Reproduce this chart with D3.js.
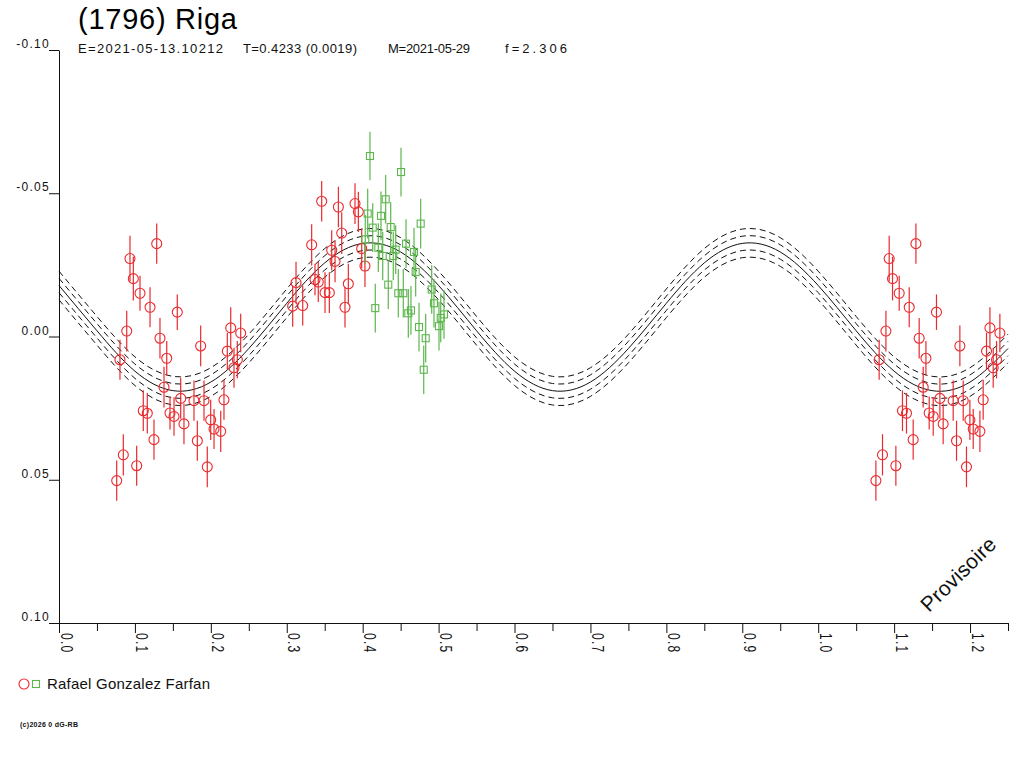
<!DOCTYPE html>
<html>
<head>
<meta charset="utf-8">
<script src="https://cdn.jsdelivr.net/npm/d3@7"></script>
<style>
  body { margin: 0; background: #fff; }
  svg { display: block; font-family: "Liberation Sans", Arial, sans-serif; }
</style>
</head>
<body>
<script>
// header texts
var title = "(1796) Riga";
var infoTexts = ["E=2021-05-13.10212", "T=0.4233 (0.0019)", "M=2021-05-29", "f=2.306"];
var observer = "Rafael Gonzalez Farfan";

// ticks
var xMajorTicks = [0, 0.1, 0.2, 0.3, 0.4, 0.5, 0.6, 0.7, 0.8, 0.9, 1.0, 1.1, 1.2];
var xMinorTicks = [0.05, 0.15, 0.25, 0.35, 0.45, 0.55, 0.65, 0.75, 0.85, 0.95, 1.05, 1.15, 1.25];
var yTicks = [-0.10, -0.05, 0.00, 0.05, 0.10];

// fitted curve, every 0.05 in phase
var fitPhase = [0, 0.05, 0.10, 0.15, 0.20, 0.25, 0.30, 0.35, 0.40, 0.45, 0.50, 0.55, 0.60,
                0.65, 0.70, 0.75, 0.80, 0.85, 0.90, 0.95, 1.00, 1.05, 1.10, 1.15, 1.20, 1.25];
var fitMag = [-0.0178, -0.0020, 0.0121, 0.0189, 0.0159, 0.0042, -0.0116, -0.0257, -0.0325,
              -0.0295, -0.0178, -0.0020, 0.0121, 0.0189, 0.0159, 0.0042, -0.0116, -0.0257,
              -0.0325, -0.0295, -0.0178, -0.0020, 0.0121, 0.0189, 0.0159, 0.0042];
// dashed envelope offsets (mag)
var bandOffsets = [-0.005, -0.0025, 0.0025, 0.005];

// session 1 (red circles): [phase, mag, error]
var redObs = [
  [0.1287, -0.0324, 0.0070], [0.0935, -0.0272, 0.0080], [0.0979, -0.0202, 0.0076],
  [0.1067, -0.0151, 0.0061], [0.1199, -0.0102, 0.0070], [0.1558, -0.0085, 0.0062],
  [0.0892, -0.0019, 0.0071], [0.1330, 0.0006, 0.0071], [0.1866, 0.0033, 0.0071],
  [0.0803, 0.0081, 0.0070], [0.1419, 0.0076, 0.0060], [0.2262, -0.0030, 0.0072],
  [0.2393, -0.0012, 0.0067], [0.2217, 0.0051, 0.0064], [0.2349, 0.0081, 0.0065],
  [0.2305, 0.0109, 0.0070], [0.1383, 0.0177, 0.0071], [0.1603, 0.0216, 0.0071],
  [0.1778, 0.0224, 0.0070], [0.1910, 0.0224, 0.0070], [0.2173, 0.0221, 0.0070],
  [0.1110, 0.0259, 0.0071], [0.1163, 0.0268, 0.0071], [0.1462, 0.0267, 0.0058],
  [0.1515, 0.0279, 0.0067], [0.1646, 0.0305, 0.0071], [0.1998, 0.0291, 0.0070],
  [0.2042, 0.0323, 0.0070], [0.2130, 0.0331, 0.0072], [0.1251, 0.0360, 0.0070],
  [0.1822, 0.0364, 0.0070], [0.0847, 0.0413, 0.0072], [0.1023, 0.0451, 0.0070],
  [0.1953, 0.0455, 0.0071], [0.0760, 0.0503, 0.0070],
  [0.3460, -0.0472, 0.0071], [0.3680, -0.0452, 0.0071], [0.3899, -0.0464, 0.0071],
  [0.3943, -0.0435, 0.0070], [0.3724, -0.0361, 0.0073], [0.3328, -0.0320, 0.0072],
  [0.3592, -0.0301, 0.0070], [0.3636, -0.0262, 0.0073], [0.3987, -0.0307, 0.0070],
  [0.4030, -0.0246, 0.0073], [0.3122, -0.0188, 0.0073], [0.3415, -0.0190, 0.0070],
  [0.3372, -0.0199, 0.0055], [0.3504, -0.0153, 0.0071], [0.3561, -0.0153, 0.0071],
  [0.3811, -0.0184, 0.0070], [0.3078, -0.0106, 0.0072], [0.3210, -0.0108, 0.0070],
  [0.3767, -0.0102, 0.0071]
];

// session 2 (green squares): [phase, mag, error]
var greenObs = [
  [0.4096, -0.0630, 0.0085], [0.4505, -0.0574, 0.0085], [0.4303, -0.0479, 0.0085],
  [0.4066, -0.0429, 0.0087], [0.4241, -0.0421, 0.0085], [0.4132, -0.0380, 0.0085],
  [0.4369, -0.0382, 0.0087], [0.4764, -0.0394, 0.0087], [0.4034, -0.0339, 0.0085],
  [0.4206, -0.0310, 0.0085], [0.4435, -0.0303, 0.0085], [0.4571, -0.0324, 0.0085],
  [0.4676, -0.0295, 0.0085], [0.4264, -0.0281, 0.0085], [0.4403, -0.0281, 0.0085],
  [0.4698, -0.0225, 0.0085], [0.4337, -0.0181, 0.0085], [0.4469, -0.0151, 0.0085],
  [0.4535, -0.0151, 0.0085], [0.4909, -0.0164, 0.0085], [0.4939, -0.0116, 0.0085],
  [0.4166, -0.0099, 0.0085], [0.4636, -0.0091, 0.0085], [0.4601, -0.0081, 0.0085],
  [0.5071, -0.0077, 0.0085], [0.5028, -0.0065, 0.0085], [0.5005, -0.0036, 0.0085],
  [0.4742, -0.0033, 0.0085], [0.4830, 0.0006, 0.0085], [0.4804, 0.0116, 0.0085]
];

var red = "#ea2a2e", green = "#5cb64c";

var svg = d3.select("body").append("svg")
    .attr("width", 1024)
    .attr("height", 768);

var x = d3.scaleLinear().domain([0, 1.25]).range([59, 1008]);
var y = d3.scaleLinear().domain([-0.10, 0.10]).range([50, 623]);

// title + info line
svg.append("text")
    .attr("x", 78).attr("y", 29)
    .attr("font-size", 29)
    .attr("textLength", 159)
    .attr("lengthAdjust", "spacing")
    .attr("fill", "#000")
    .text(title);

var infoX = [78, 243, 388, 505],
    infoW = [145, 114, 82, 62];
svg.selectAll(".info")
  .data(infoTexts)
  .enter().append("text")
    .attr("class", "info")
    .attr("x", function(d, i) { return infoX[i]; })
    .attr("y", 53)
    .attr("font-size", 13)
    .attr("textLength", function(d, i) { return infoW[i]; })
    .attr("lengthAdjust", "spacing")
    .attr("fill", "#111")
    .text(function(d) { return d; });

// y axis
var yAxis = svg.append("g")
    .attr("transform", "translate(59,0)")
    .call(d3.axisLeft(y).tickValues(yTicks).tickSize(10).tickSizeOuter(0)
      .tickFormat(function(d) { return d.toFixed(2); }));
yAxis.selectAll("text")
    .attr("x", -9)
    .attr("dy", "-0.2em")
    .attr("font-size", 12)
    .attr("letter-spacing", 1.3)
    .attr("font-family", "Liberation Sans, Arial, sans-serif")
    .attr("fill", "#111");

// x axis, minor ticks first then majors with labels
svg.append("g")
    .attr("transform", "translate(0,623)")
    .call(d3.axisBottom(x).tickValues(xMinorTicks).tickSize(8).tickSizeOuter(0).tickFormat(""));
var xAxis = svg.append("g")
    .attr("transform", "translate(0,623)")
    .call(d3.axisBottom(x).tickValues(xMajorTicks).tickSize(10).tickSizeOuter(0)
      .tickFormat(function(d) { return d.toFixed(1); }));
xAxis.selectAll("text")
    .attr("y", null).attr("dy", null)
    .attr("text-anchor", "start")
    .attr("font-size", 12)
    .attr("letter-spacing", 1.3)
    .attr("font-family", "Liberation Sans, Arial, sans-serif")
    .attr("fill", "#111")
    .attr("transform", "translate(1,10) rotate(90) scale(1,1.4)");
svg.selectAll(".domain, .tick line").attr("stroke", "#111");

// fitted curve with dashed envelope
var fit = fitPhase.map(function(p, i) { return [p, fitMag[i]]; });
var line = d3.line()
    .x(function(d) { return x(d[0]); })
    .y(function(d) { return y(d[1]); })
    .curve(d3.curveNatural);

svg.selectAll(".band")
  .data(bandOffsets)
  .enter().append("path")
    .attr("class", "band")
    .attr("fill", "none")
    .attr("stroke", "#111")
    .attr("stroke-width", 1)
    .attr("stroke-dasharray", "6,4")
    .attr("d", function(off) {
      return line(fit.map(function(d) { return [d[0], d[1] + off]; }));
    });
svg.append("path")
    .attr("fill", "none")
    .attr("stroke", "#111")
    .attr("stroke-width", 1)
    .attr("d", line(fit));

// red points are shown again one cycle later, as in the original plot
var redAll = redObs.concat(redObs
    .filter(function(d) { return d[0] + 1 <= 1.25; })
    .map(function(d) { return [d[0] + 1, d[1], d[2]]; }));

function errorBars(data, color, cls) {
  svg.selectAll("." + cls)
    .data(data)
    .enter().append("line")
      .attr("class", cls)
      .attr("x1", function(d) { return x(d[0]); })
      .attr("x2", function(d) { return x(d[0]); })
      .attr("y1", function(d) { return y(d[1] - d[2]); })
      .attr("y2", function(d) { return y(d[1] + d[2]); })
      .attr("stroke", color)
      .attr("stroke-width", 1.2);
}

errorBars(redAll, red, "rerr");
svg.selectAll(".rpt")
  .data(redAll)
  .enter().append("circle")
    .attr("class", "rpt")
    .attr("cx", function(d) { return x(d[0]); })
    .attr("cy", function(d) { return y(d[1]); })
    .attr("r", 5)
    .attr("fill", "none")
    .attr("stroke", red)
    .attr("stroke-width", 1.1);

errorBars(greenObs, green, "gerr");
svg.selectAll(".gpt")
  .data(greenObs)
  .enter().append("rect")
    .attr("class", "gpt")
    .attr("x", function(d) { return x(d[0]) - 3.5; })
    .attr("y", function(d) { return y(d[1]) - 3.5; })
    .attr("width", 7)
    .attr("height", 7)
    .attr("fill", "none")
    .attr("stroke", green)
    .attr("stroke-width", 1.1);

// watermark
svg.append("text")
    .attr("transform", "translate(929,613) rotate(-44.5)")
    .attr("font-size", 21)
    .attr("textLength", 96)
    .attr("lengthAdjust", "spacing")
    .attr("fill", "#111")
    .text("Provisoire");

// legend
svg.append("circle")
    .attr("cx", 24).attr("cy", 684).attr("r", 5)
    .attr("fill", "none").attr("stroke", red).attr("stroke-width", 1.1);
svg.append("rect")
    .attr("x", 32.5).attr("y", 680.5).attr("width", 7).attr("height", 7)
    .attr("fill", "none").attr("stroke", green).attr("stroke-width", 1.1);
svg.append("text")
    .attr("x", 47).attr("y", 689)
    .attr("font-size", 15)
    .attr("textLength", 163)
    .attr("lengthAdjust", "spacing")
    .attr("fill", "#111")
    .text(observer);

svg.append("text")
    .attr("x", 20).attr("y", 727)
    .attr("font-size", 7)
    .attr("font-weight", "bold")
    .attr("textLength", 58)
    .attr("lengthAdjust", "spacing")
    .attr("fill", "#111")
    .text("(c)2026 0 dG-RB");
</script>
</body>
</html>
